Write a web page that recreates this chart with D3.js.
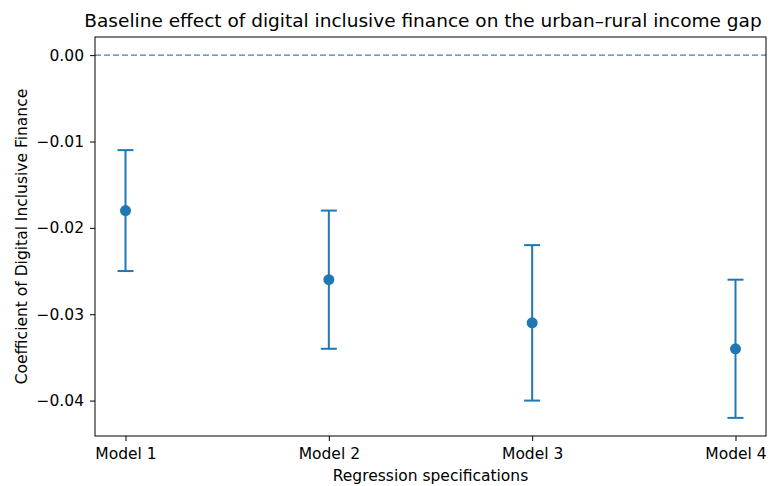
<!DOCTYPE html>
<html>
<head>
<meta charset="utf-8">
<script src="https://cdn.jsdelivr.net/npm/d3@7"></script>
<style>
  body { margin: 0; background: #fff; }
  svg { display: block; font-family: "DejaVu Sans", sans-serif; }
</style>
</head>
<body>
<svg id="chart" width="774" height="486"></svg>
<script>
// Regression models and estimated coefficients with confidence bounds
const models = ["Model 1", "Model 2", "Model 3", "Model 4"];
const coef = [-0.018, -0.026, -0.031, -0.034];
const lower = [-0.025, -0.034, -0.040, -0.042];
const upper = [-0.011, -0.018, -0.022, -0.026];
const yTicks = [0.00, -0.01, -0.02, -0.03, -0.04];

const svg = d3.select("#chart");
const m = { left: 95, right: 774 - 766, top: 37, bottom: 486 - 436 };
const W = 774 - m.left - m.right;
const H = 486 - m.top - m.bottom;
const g = svg.append("g").attr("transform", `translate(${m.left},${m.top})`);

const n = models.length;
const pad = (n - 1) * 0.05;
const x = d3.scaleLinear().domain([-pad, n - 1 + pad]).range([0, W]);
const yMin = d3.min(lower), yMax = 0;
const yPad = (yMax - yMin) * 0.05;
const y = d3.scaleLinear().domain([yMin - yPad, yMax + yPad]).range([H, 0]);

const blue = "#1f77b4";

// zero reference line
g.append("line")
  .attr("x1", 0).attr("x2", W)
  .attr("y1", y(0)).attr("y2", y(0))
  .attr("stroke", blue).attr("stroke-opacity", 0.9)
  .attr("stroke-width", 1.4).attr("stroke-dasharray", "6,3");

// error bars
const data = models.map((d, i) => ({ i, c: coef[i], lo: lower[i], hi: upper[i] }));
const eb = g.selectAll(".eb").data(data).enter().append("g");
eb.append("line")
  .attr("x1", d => x(d.i)).attr("x2", d => x(d.i))
  .attr("y1", d => y(d.lo)).attr("y2", d => y(d.hi))
  .attr("stroke", blue).attr("stroke-width", 2);
[d => d.lo, d => d.hi].forEach(f => {
  eb.append("line")
    .attr("x1", d => x(d.i) - 8).attr("x2", d => x(d.i) + 8)
    .attr("y1", d => y(f(d))).attr("y2", d => y(f(d)))
    .attr("stroke", blue).attr("stroke-width", 2);
});
eb.append("circle")
  .attr("cx", d => x(d.i)).attr("cy", d => y(d.c))
  .attr("r", 5.5).attr("fill", blue);

// axes
const xAxis = d3.axisBottom(x).tickValues(d3.range(n))
  .tickFormat(i => models[i]).tickSizeOuter(0).tickSize(5).tickPadding(7);
const yAxis = d3.axisLeft(y).tickValues(yTicks)
  .tickFormat(d => d === 0 ? "0.00" : d3.format(".2f")(d).replace("-", "\u2212"))
  .tickSizeOuter(0).tickSize(5).tickPadding(6);

const gx = g.append("g").attr("transform", `translate(0,${H})`).call(xAxis);
const gy = g.append("g").call(yAxis);
[gx, gy].forEach(a => {
  a.select(".domain").remove();
  a.selectAll("line").attr("stroke", "#000").attr("stroke-width", 1);
  a.selectAll("text").attr("font-size", 15.5).attr("fill", "#000")
    .attr("font-family", "DejaVu Sans, sans-serif");
});

// frame
g.append("rect").attr("x", 0).attr("y", 0).attr("width", W).attr("height", H)
  .attr("fill", "none").attr("stroke", "#000").attr("stroke-width", 1);

// titles
svg.append("text").attr("x", 423).attr("y", 27)
  .attr("text-anchor", "middle").attr("font-size", 18.5)
  .text("Baseline effect of digital inclusive finance on the urban\u2013rural income gap");
svg.append("text").attr("x", m.left + W / 2).attr("y", 481)
  .attr("text-anchor", "middle").attr("font-size", 15.5)
  .text("Regression specifications");
svg.append("text")
  .attr("transform", `translate(27,${m.top + H / 2}) rotate(-90)`)
  .attr("text-anchor", "middle").attr("font-size", 15.5)
  .text("Coefficient of Digital Inclusive Finance");
</script>
</body>
</html>
